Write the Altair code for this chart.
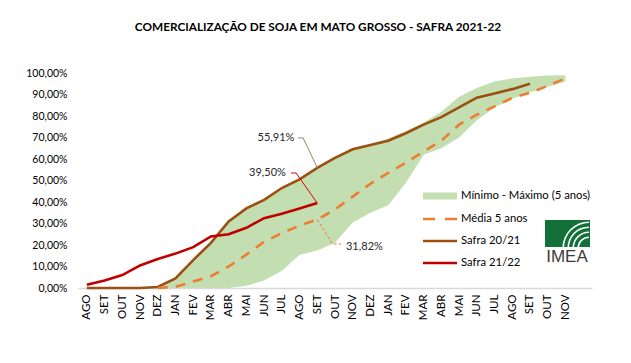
import altair as alt
import pandas as pd

# ---------------- data ----------------
months = ["AGO", "SET", "OUT", "NOV", "DEZ", "JAN", "FEV", "MAR", "ABR", "MAI", "JUN", "JUL",
          "AGO", "SET", "OUT", "NOV", "DEZ", "JAN", "FEV", "MAR", "ABR", "MAI", "JUN", "JUL",
          "AGO", "SET", "OUT", "NOV"]

# band (Mínimo - Máximo 5 anos), starts at DEZ (index 4)
band_start = 4
band_min = [0, 0, 0, 0, 0, 1, 3.5, 8, 15.5, 17.5, 21, 30.5, 35, 38.5, 49, 62, 65, 70, 78, 84, 88, 91, 93.5, 96]
band_max = [0.5, 4.5, 13, 21, 31, 37, 41, 46.5, 50.5, 55.91, 60.5, 64.5, 67, 69.5, 73, 77, 82, 89, 93, 96, 97.5, 98.3, 98.8, 99]

# Média 5 anos, starts at DEZ (index 4)
media_start = 4
media = [0, 0.5, 3, 5.5, 10, 15.5, 21.5, 25.5, 29, 31.82, 36.5, 42.5, 48.5, 53.5, 58.3, 63.5, 68.5, 76, 80.6, 84.5, 88.4, 90.8, 94, 97.5]

# Safra 20/21, starts at AGO (index 0)
safra2021 = [0, 0, 0, 0, 0.5, 4.5, 13, 21, 31, 37, 41, 46.5, 50.5, 55.91, 60.5, 64.5, 66.5, 68.5,
             72, 76, 79.5, 84, 88.5, 90.5, 92.5, 95]

# Safra 21/22, starts at AGO (index 0)
safra2122 = [1.5, 3.5, 6, 10.5, 13.5, 16, 19, 24, 25, 28, 32.5, 34.5, 37, 39.5]

series_names = ["Mínimo - Máximo (5 anos)", "Média 5 anos", "Safra 20/21", "Safra 21/22"]
title_text = "COMERCIALIZAÇÃO DE SOJA EM MATO GROSSO - SAFRA 2021-22"

# annotations
ann_labels = ["55,91%", "39,50%", "31,82%"]
ann_x = [10.67, 10.19, 14.62]
ann_y = [69.8, 53.5, 19.1]
lead_5591_x = [11.92, 12.2, 13]
lead_5591_y = [69.8, 69.8, 55.91]
lead_3950_x = [11.52, 11.8, 13]
lead_3950_y = [53.5, 53.5, 39.5]
lead_3182_x = [13, 13.85, 14.35]
lead_3182_y = [31.82, 20.5, 20.5]

# ---------------- colours ----------------
C_BAND = "#C3DFB1"
C_MEDIA = "#ED7D31"
C_2021 = "#9C4F10"
C_2122 = "#C00000"
FONT = "Lato"

band_df = pd.DataFrame({
    "idx": list(range(band_start, band_start + len(band_min))),
    "lo": band_min, "hi": band_max})
media_df = pd.DataFrame({"idx": list(range(media_start, media_start + len(media))), "val": media})
s2021_df = pd.DataFrame({"idx": list(range(len(safra2021))), "val": safra2021})
s2122_df = pd.DataFrame({"idx": list(range(len(safra2122))), "val": safra2122})

month_js = "[" + ",".join("'" + m + "'" for m in months) + "]"

x_axis = alt.Axis(values=list(range(len(months))), labelExpr=month_js + "[datum.value]",
                  ticks=False, grid=False, domainColor="#D9D9D9", domainWidth=1.5,
                  labelAngle=270, labelFont=FONT, labelFontSize=11.5, labelColor="#000000",
                  labelPadding=6, title=None, labelOverlap=False, labelFlush=False, labelBound=False)
y_axis = alt.Axis(values=list(range(0, 101, 10)),
                  labelExpr="replace(format(datum.value, '.2f'), '.', ',') + '%'",
                  domain=False, ticks=False, grid=False, labelPadding=11, title=None,
                  labelFont=FONT, labelFontSize=10.5, labelColor="#000000")
x_scale = alt.Scale(domain=[-0.5, 28.5], nice=False, zero=False)
y_scale = alt.Scale(domain=[0, 100], nice=False)


def X(f="idx"):
    return alt.X(f + ":Q", scale=x_scale, axis=x_axis)


def Y(f):
    return alt.Y(f + ":Q", scale=y_scale, axis=y_axis)


band = alt.Chart(band_df).mark_area(color=C_BAND, opacity=1).encode(
    x=X(), y=Y("lo"), y2=alt.Y2("hi:Q"))

line2021 = alt.Chart(s2021_df).mark_line(color=C_2021, strokeWidth=2.6).encode(x=X(), y=Y("val"))
line_media = alt.Chart(media_df).mark_line(color=C_MEDIA, strokeWidth=2.6, strokeDash=[10, 8]).encode(
    x=X(), y=Y("val"))
line2122 = alt.Chart(s2122_df).mark_line(color=C_2122, strokeWidth=2.6).encode(x=X(), y=Y("val"))

# annotations
ann_df = pd.DataFrame({"idx": ann_x, "val": ann_y, "label": ann_labels})
ann_center = alt.Chart(ann_df.iloc[:2]).mark_text(
    font=FONT, fontSize=11, color="#262626", align="center", baseline="middle").encode(
    x=X(), y=Y("val"), text="label:N")
ann_left = alt.Chart(ann_df.iloc[2:]).mark_text(
    font=FONT, fontSize=11, color="#262626", align="left", baseline="middle").encode(
    x=X(), y=Y("val"), text="label:N")


def leader(xs, ys, color, dash=None):
    df = pd.DataFrame({"idx": xs, "val": ys, "o": list(range(len(xs)))})
    kw = dict(color=color, strokeWidth=1)
    if dash:
        kw["strokeDash"] = dash
    return alt.Chart(df).mark_line(**kw).encode(x=X(), y=Y("val"), order="o:Q")


lead1 = leader(lead_5591_x, lead_5591_y, "#958760")
lead2 = leader(lead_3950_x, lead_3950_y, "#E00000")
lead3 = leader(lead_3182_x, lead_3182_y, C_MEDIA, dash=[3, 2])

one = alt.Data(values=[{"a": 1}])

# title
title = alt.Chart(one).mark_text(font=FONT, fontSize=11.8, fontWeight="bold", color="#000000",
                                 align="center", baseline="middle").encode(
    x=alt.value(240), y=alt.value(-46), text=alt.value(title_text))

# legend
LX1, LX2, LT = 345, 379, 383
LY = [123, 146, 168, 190]
leg_band = alt.Chart(one).mark_rect(color=C_BAND).encode(
    x=alt.value(LX1), x2=alt.value(LX2), y=alt.value(LY[0] - 3.5), y2=alt.value(LY[0] + 3.5))
leg_media = alt.Chart(one).mark_rule(color=C_MEDIA, strokeWidth=2.6, strokeDash=[12, 10]).encode(
    x=alt.value(LX1), x2=alt.value(LX2), y=alt.value(LY[1]))
leg_2021 = alt.Chart(one).mark_rule(color=C_2021, strokeWidth=2.6).encode(
    x=alt.value(LX1), x2=alt.value(LX2), y=alt.value(LY[2]))
leg_2122 = alt.Chart(one).mark_rule(color=C_2122, strokeWidth=2.6).encode(
    x=alt.value(LX1), x2=alt.value(LX2), y=alt.value(LY[3]))
leg_texts = [alt.Chart(one).mark_text(font=FONT, fontSize=11.3, color="#000000", align="left",
                                      baseline="middle").encode(
    x=alt.value(LT), y=alt.value(LY[i]), text=alt.value(series_names[i])) for i in range(4)]

# logo
logo_box = alt.Chart(one).mark_rect(color="#137038").encode(
    x=alt.value(467), x2=alt.value(512), y=alt.value(147), y2=alt.value(174))
logo_arcs = [alt.Chart(one).mark_arc(color="white", theta=4.712, theta2=6.283,
                                     radius=r + 1.6, radius2=r).encode(
    x=alt.value(511), y=alt.value(175)) for r in [10, 15, 20, 25]]
logo_text = alt.Chart(one).mark_text(font="Liberation Sans", fontSize=17, color="#3A3A3A",
                                     align="center", baseline="middle").encode(
    x=alt.value(489), y=alt.value(184), text=alt.value("IMEA"))

chart = alt.layer(
    band, line2021, line_media, line2122,
    lead1, lead2, lead3, ann_center, ann_left,
    title, leg_band, leg_media, leg_2021, leg_2122, *leg_texts,
    logo_box, *logo_arcs, logo_text
).properties(
    width=514, height=215,
    autosize=alt.AutoSizeParams(type="none"),
    padding={"left": 70, "top": 65, "right": 31, "bottom": 67},
    background="white"
).configure_view(stroke=None)

chart.save("out.html", embed_options={"renderer": "svg", "actions": False})
